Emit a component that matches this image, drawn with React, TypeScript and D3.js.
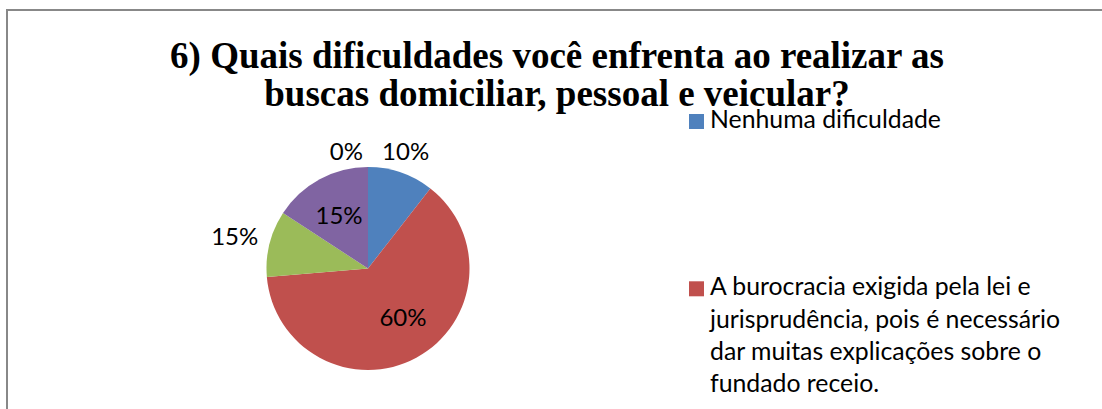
import React, { useEffect, useRef } from "react";
import * as d3 from "d3";

const titleLines = [
  "6) Quais dificuldades você enfrenta ao realizar as",
  "buscas domiciliar, pessoal e veicular?",
];
const categories = [
  "Nenhuma dificuldade",
  "A burocracia exigida pela lei e jurisprudência, pois é necessário dar muitas explicações sobre o fundado receio.",
  "",
  "",
  "",
];
const values = [10, 60, 10, 15, 0];
const valueLabels = ["10%", "60%", "15%", "15%", "0%"];
const colors = ["#4F81BD", "#C0504D", "#9BBB59", "#8064A2", "#4BACC6"];

const W = 1102;
const H = 409;
const FONT = "Lato, 'Open Sans', sans-serif";

export default function App() {
  const ref = useRef<SVGSVGElement>(null);

  useEffect(() => {
    const svg = d3.select(ref.current);
    svg.selectAll("*").remove();

    // chart frame
    svg.append("rect")
      .attr("x", 7).attr("y", 10)
      .attr("width", W + 20).attr("height", H + 20)
      .attr("fill", "#fff")
      .attr("stroke", "#888")
      .attr("stroke-width", 2);

    // title
    svg.append("g").selectAll("text")
      .data(titleLines)
      .join("text")
      .attr("x", 557)
      .attr("y", (d, i) => 68 + i * 38)
      .attr("text-anchor", "middle")
      .style("font-family", "'Liberation Serif', 'Times New Roman', serif")
      .style("font-weight", "bold")
      .style("font-size", "37px")
      .text(d => d);

    const cx = 368, cy = 268.5, r = 101.5;
    const pie = d3.pie<number>().sort(null).value(d => d);
    const arcs = pie(values);
    const arc = d3.arc<d3.PieArcDatum<number>>().innerRadius(0).outerRadius(r);

    const g = svg.append("g").attr("transform", `translate(${cx},${cy})`);
    g.selectAll("path")
      .data(arcs)
      .join("path")
      .attr("d", arc)
      .attr("fill", (d, i) => colors[i]);

    // data labels
    const fs = 24;
    const inner = d3.arc<d3.PieArcDatum<number>>().innerRadius(r * 0.6).outerRadius(r * 0.6);
    const labels = g.selectAll("text")
      .data(arcs)
      .join("text")
      .style("font-family", FONT)
      .style("font-size", fs + "px")
      .attr("fill", "#000")
      .attr("dominant-baseline", "central")
      .text((d, i) => valueLabels[i]);

    labels.each(function (d) {
      const t = d3.select(this);
      const span = d.endAngle - d.startAngle;
      if (span > Math.PI / 4) {
        const [x, y] = inner.centroid(d);
        // nudge toward the slice's upper side, as the reference does for wide slices
        const lift = span > Math.PI ? -6 : 0;
        t.attr("x", x + (span > Math.PI ? 6 : 0)).attr("y", y + lift).attr("text-anchor", "middle");
        return;
      }
      const w = (this as SVGTextElement).getComputedTextLength();
      const h = fs * 0.7;
      const a = (d.startAngle + d.endAngle) / 2;
      const s = Math.sin(a), c = Math.cos(a);
      if (span === 0) {
        t.attr("x", -5).attr("y", -(r + 8 + h / 2)).attr("text-anchor", "end");
        return;
      }
      const rho = r + 8 + Math.abs(s) * w / 2 + Math.abs(c) * h / 2;
      t.attr("x", rho * s - 3).attr("y", -rho * c).attr("text-anchor", "middle");
    });

    // legend
    const lx = 689, lineH = 32.3, gap = 135, maxW = 365, lfs = 24.8;
    let ly = 128;
    categories.forEach((name, i) => {
      const item = svg.append("g");
      item.append("rect")
        .attr("x", lx).attr("y", ly - 14)
        .attr("width", 15).attr("height", 15)
        .attr("fill", colors[i]);
      const text = item.append("text")
        .attr("x", lx + 21).attr("y", ly)
        .style("font-family", FONT)
        .style("font-size", lfs + "px")
        .attr("fill", "#000");
      const words = name.split(" ");
      let line: string[] = [];
      let n = 0;
      let tspan = text.append("tspan").attr("x", lx + 21).attr("dy", 0);
      words.forEach(word => {
        line.push(word);
        tspan.text(line.join(" "));
        if ((tspan.node() as SVGTSpanElement).getComputedTextLength() > maxW && line.length > 1) {
          line.pop();
          tspan.text(line.join(" "));
          line = [word];
          n++;
          tspan = text.append("tspan").attr("x", lx + 21).attr("dy", lineH).text(word);
        }
      });
      ly += (n + 1) * lineH + gap;
    });
  }, []);

  return (
    <svg
      ref={ref}
      width={W}
      height={H}
      style={{ position: "absolute", left: 0, top: 0, background: "#fff" }}
    />
  );
}
